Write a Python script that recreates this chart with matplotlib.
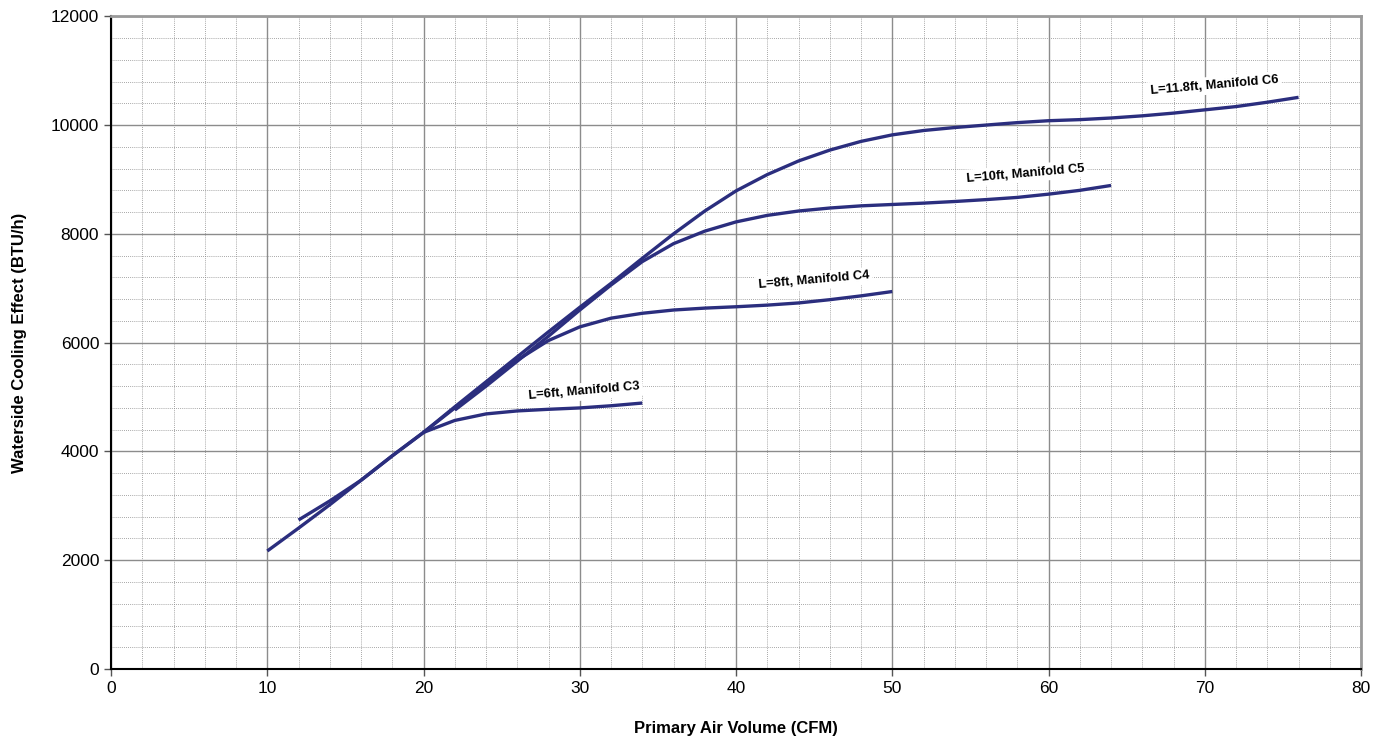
import numpy as np
import matplotlib.pyplot as plt
from matplotlib.ticker import MultipleLocator

plt.rcParams['font.family'] = ['Liberation Sans', 'DejaVu Sans']

# curve data (CFM, BTU/h)
x_c3 = [10, 12, 14, 16, 18, 20, 22, 24, 26, 28, 30, 32, 34]
y_c3 = [2170, 2590, 3020, 3470, 3920, 4350, 4570, 4690, 4745, 4775, 4800, 4840, 4890]

x_c4 = [12, 14, 16, 18, 20, 22, 24, 26, 28, 30, 32, 34, 36, 38, 40, 42, 44, 46, 48, 50]
y_c4 = [2740, 3090, 3470, 3920, 4350, 4800, 5250, 5680, 6040, 6290, 6450, 6540,
        6600, 6635, 6660, 6690, 6730, 6790, 6860, 6940]

x_c5 = [22, 24, 26, 28, 30, 32, 34, 36, 38, 40, 42, 44, 46, 48, 50, 52, 54, 56,
        58, 60, 62, 64]
y_c5 = [4760, 5200, 5660, 6120, 6600, 7060, 7490, 7820, 8050, 8220, 8340, 8420,
        8475, 8515, 8540, 8565, 8595, 8630, 8670, 8730, 8800, 8890]

x_c6 = [20, 22, 24, 26, 28, 30, 32, 34, 36, 38, 40, 42, 44, 46, 48, 50, 52, 54,
        56, 58, 60, 62, 64, 66, 68, 70, 72, 74, 76]
y_c6 = [4350, 4820, 5280, 5740, 6200, 6650, 7090, 7550, 8000, 8420, 8790, 9090,
        9340, 9540, 9700, 9820, 9900, 9955, 10000, 10045, 10080, 10100, 10130,
        10170, 10220, 10280, 10340, 10420, 10510]

labels = ["L=6ft, Manifold C3", "L=8ft, Manifold C4",
          "L=10ft, Manifold C5", "L=11.8ft, Manifold C6"]
label_x = [30.3, 45.0, 58.5, 70.6]
label_y = [5100, 7140, 9110, 10730]

fig = plt.figure(figsize=(13.86, 7.40), dpi=100)
ax = fig.add_axes([0.0801, 0.0959, 0.9019, 0.8821])

line_color = '#2b2e7e'
for xs, ys in [(x_c3, y_c3), (x_c4, y_c4), (x_c5, y_c5), (x_c6, y_c6)]:
    ax.plot(xs, ys, color=line_color, lw=2.4, solid_joinstyle='round',
            solid_capstyle='butt', zorder=3)

for txt, lx, ly in zip(labels, label_x, label_y):
    ax.text(lx, ly, txt, fontsize=9.3, fontweight='bold', rotation=5,
            ha='center', va='center', zorder=4,
            bbox=dict(facecolor='white', edgecolor='none', pad=2))

ax.set_xlim(0, 80)
ax.set_ylim(0, 12000)
ax.xaxis.set_major_locator(MultipleLocator(10))
ax.xaxis.set_minor_locator(MultipleLocator(2))
ax.yaxis.set_major_locator(MultipleLocator(2000))
ax.yaxis.set_minor_locator(MultipleLocator(400))

ax.grid(which='major', color='#8c8c8c', lw=1.0, linestyle='-', zorder=1)
ax.grid(which='minor', color='#8a8a8a', lw=0.6, linestyle=(0, (1, 1.5)), zorder=1)
ax.set_axisbelow(True)

ax.tick_params(which='major', direction='out', length=5, width=1,
               labelsize=12.5, color='#555555')
ax.tick_params(which='minor', length=0)

for s in ['left', 'bottom']:
    ax.spines[s].set_color('black')
    ax.spines[s].set_linewidth(1.5)
for s in ['top', 'right']:
    ax.spines[s].set_color('#9a9a9a')
    ax.spines[s].set_linewidth(2)

ax.set_xlabel('Primary Air Volume (CFM)', fontsize=12, fontweight='bold',
              labelpad=18)
ax.set_ylabel('Waterside Cooling Effect (BTU/h)', fontsize=12,
              fontweight='bold', labelpad=17)

fig.savefig('out.png', dpi=100)
